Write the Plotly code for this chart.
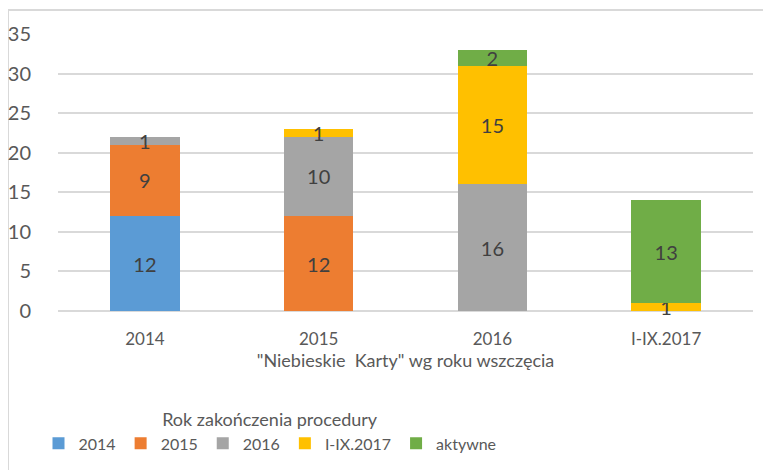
import plotly.graph_objects as go

categories = ["2014", "2015", "2016", "I-IX.2017"]
series_names = ["2014", "2015", "2016", "I-IX.2017", "aktywne"]
v_2014 = [12, None, None, None]
v_2015 = [9, 12, None, None]
v_2016 = [1, 10, 16, None]
v_2017 = [None, 1, 15, 1]
v_akt = [None, None, 2, 13]
colors = ["#5B9BD5", "#ED7D31", "#A5A5A5", "#FFC000", "#70AD47"]

series = [v_2014, v_2015, v_2016, v_2017, v_akt]

FONT = "Lato"
W, H = 763, 462
fig = go.Figure()
for name, vals, col in zip(series_names, series, colors):
    fig.add_trace(go.Bar(
        x=categories, y=vals, name=name,
        marker=dict(color=col, line=dict(width=0)),
        text=[("" if v is None else str(v)) for v in vals],
        textposition="inside", insidetextanchor="middle", textangle=0,
        constraintext="none", cliponaxis=False,
        textfont=dict(family=FONT, size=20, color="#404040"),
    ))

fig.update_layout(
    barmode="stack", bargap=0.6,
    width=W, height=H,
    margin=dict(l=50, r=18, t=26, b=159, autoexpand=False),
    paper_bgcolor="white", plot_bgcolor="white",
    font=dict(family=FONT, color="#595959"),
    showlegend=True,
    legend=dict(
        orientation="h", x=212 / 695, xanchor="center",
        yref="container", y=(H - 395) / H, yanchor="top",
        font=dict(family=FONT, size=16, color="#595959"),
        title=dict(text="Rok zakończenia procedury", side="top center",
                   font=dict(family=FONT, size=18, color="#595959")),
        itemwidth=30, tracegroupgap=0, traceorder="normal",
    ),
    xaxis=dict(
        title=dict(text='"Niebieskie  Karty" wg roku wszczęcia', standoff=2,
                   font=dict(family=FONT, size=18, color="#595959")),
        tickfont=dict(family=FONT, size=17, color="#595959"),
        showgrid=False, showline=False, ticks="outside", ticklen=13,
        tickcolor="rgba(0,0,0,0)", automargin=False,
    ),
    yaxis=dict(
        range=[0, 35], dtick=5, tick0=0,
        showgrid=True, gridcolor="#D9D9D9", gridwidth=1.5,
        zeroline=True, zerolinecolor="#D9D9D9", zerolinewidth=1.5,
        tickfont=dict(family=FONT, size=20, color="#595959"),
        ticks="outside", ticklen=22, tickcolor="rgba(0,0,0,0)",
        showline=False, automargin=False,
    ),
    shapes=[dict(type="rect", xref="paper", yref="paper",
                 x0=-50 / 695, x1=712 / 695, y0=-0.7, y1=(303 - 2) / 277,
                 line=dict(color="#D9D9D9", width=2), fillcolor="rgba(0,0,0,0)",
                 layer="below")],
)

fig.write_html("out.html")
